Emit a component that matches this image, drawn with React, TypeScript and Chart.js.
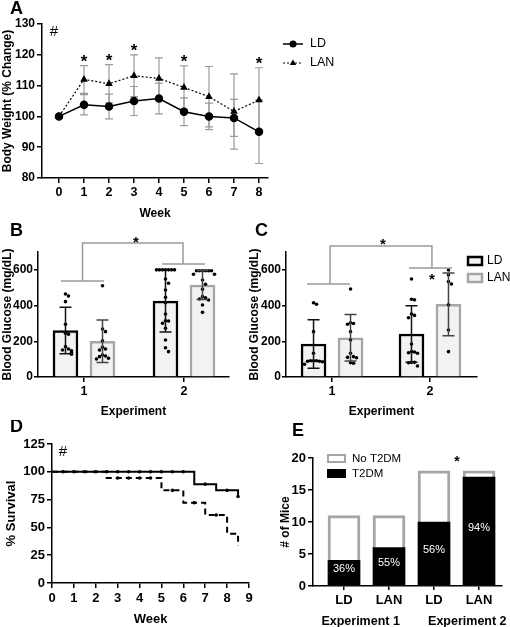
import React, { useEffect, useRef } from "react";
import { Chart, registerables } from "chart.js";
Chart.register(...registerables);

const FONT = "'Liberation Sans', Arial, Helvetica, sans-serif";
Chart.defaults.font.family = FONT;
Chart.defaults.color = "#000";

// ---------- Panel A: body weight ----------
const weeks = [0, 1, 2, 3, 4, 5, 6, 7, 8];
const ldWeight = [100, 103.8, 103.2, 105, 105.8, 101.5, 100, 99.5, 95];
const ldWeightSD = [0, 3.3, 4, 4.7, 5, 4.5, 4.3, 6, 10.3];
const lanWeight = [100, 112, 110.6, 113.2, 112.3, 109.4, 106.4, 101.6, 105.3];
const lanWeightSD = [0, 4.5, 6.2, 6.8, 6.7, 7, 9.8, 12.2, 10.5];
const weightStarWeeks = [1, 2, 3, 5, 8];
const weightTicks = [80, 90, 100, 110, 120, 130];

// ---------- Panel B: blood glucose ----------
const experiments = ["1", "2"];
const glucoseTicks = [0, 200, 400, 600];
const bLdMean = [260, 425];
const bLdSD = [130, 173];
const bLanMean = [200, 515];
const bLanSD = [119, 81];
const bLdDots = [
  [465, 454, 422, 295, 245, 239, 170, 157, 151, 147, 138, 127],
  [600, 600, 600, 600, 600, 600, 600, 549, 525, 487, 446, 416, 353, 315, 314, 301, 273, 207, 164, 142],
];
const bLanDots = [
  [511, 269, 254, 203, 166, 157, 151, 123, 118, 114, 105, 101],
  [595, 595, 595, 595, 595, 595, 575, 575, 543, 519, 491, 450, 444, 437, 431, 403, 362],
];

// ---------- Panel C: blood glucose ----------
const cLdMean = [185, 241];
const cLdSD = [136, 158];
const cLanMean = [220, 407];
const cLanSD = [130, 176];
const cLdDots = [
  [416, 407, 254, 133, 91, 91, 91, 88, 88, 85, 71],
  [549, 435, 432, 353, 345, 332, 185, 142, 140, 136, 133, 82, 82, 80, 62],
];
const cLanDots = [
  [493, 304, 300, 295, 254, 207, 133, 114, 110, 108, 80, 77],
  [599, 571, 534, 521, 404, 263, 142],
];

// ---------- Panel D: survival ----------
const survivalWeeks = [0, 1, 2, 3, 4, 5, 6, 7, 8, 9];
const survivalTicks = [0, 25, 50, 75, 100, 125];
const ldTimes = [0, 6.5, 7.5, 8.5];
const ldSurv = [100, 88.9, 83.3, 77.8];
const lanTimes = [0, 2.5, 5, 6, 7, 8, 8.5];
const lanSurv = [100, 94.4, 83.3, 72.2, 61.1, 44.4, 33.3];
const ldCensor = [0.5, 1, 1.5, 2, 2.5, 3, 3.5, 4, 4.5, 5, 5.5, 6, 7, 8, 8.5];
const lanCensor = [3, 3.5, 4, 4.5, 5.5, 6.5, 7.5];

// ---------- Panel E: T2DM ----------
const eGroups = ["LD", "LAN", "LD", "LAN"];
const eExperiments = ["Experiment 1", "Experiment 2"];
const eTotal = [11, 11, 18, 18];
const eT2DM = [4, 6, 10, 17];
const eTicks = [0, 5, 10, 15, 20];

// ---------- helpers ----------
const GRAY = "#a6a6a6";
const xTickFont = { family: FONT, size: 12.5, weight: "bold" as const };
const yTickFont = { family: FONT, size: 12, weight: "bold" as const };
const titleFont = { family: FONT, size: 12, weight: "bold" as const };

function axis(opts: any) {
  return {
    border: { display: true, color: "#000", width: 1.5 },
    grid: { display: true, drawOnChartArea: false, drawTicks: true, tickLength: 5, color: "#000", lineWidth: 1.5, offset: false },
    ticks: { color: "#000", font: yTickFont, padding: 2 },
    offset: false,
    ...opts,
  };
}
function fixedTicks(values: number[]) {
  return (s: any) => {
    s.ticks = values.map((v) => ({ value: v }));
  };
}
function text(ctx: CanvasRenderingContext2D, s: string, x: number, y: number, font: string, color = "#000", align: CanvasTextAlign = "center", baseline: CanvasTextBaseline = "middle") {
  ctx.save();
  ctx.font = font;
  ctx.fillStyle = color;
  ctx.textAlign = align;
  ctx.textBaseline = baseline;
  ctx.fillText(s, x, y);
  ctx.restore();
}
function star(ctx: CanvasRenderingContext2D, x: number, y: number, size = 17) {
  text(ctx, "*", x, y + size * 0.57, `bold ${size}px ${FONT}`, "#000", "center", "alphabetic");
}
function errBar(ctx: CanvasRenderingContext2D, px: number, top: number, bot: number, half: number) {
  ctx.beginPath();
  ctx.moveTo(px, top);
  ctx.lineTo(px, bot);
  ctx.moveTo(px - half, top);
  ctx.lineTo(px + half, top);
  ctx.moveTo(px - half, bot);
  ctx.lineTo(px + half, bot);
  ctx.stroke();
}
const jitterPattern = [0, 1, -1, 2, -2, 3, -3, 4, -4];
function jitter(values: number[], thresh: number) {
  return values.map((v, i) => {
    let k = 0;
    for (let j = 0; j < i; j++) if (Math.abs(values[j] - v) < thresh) k++;
    return jitterPattern[k % jitterPattern.length];
  });
}

function ChartBox({ left, top, width, height, make }: { left: number; top: number; width: number; height: number; make: () => any }) {
  const ref = useRef<HTMLCanvasElement>(null);
  useEffect(() => {
    const chart = new Chart(ref.current as HTMLCanvasElement, make());
    return () => chart.destroy();
  }, []);
  return (
    <div style={{ position: "absolute", left, top, width, height }}>
      <canvas ref={ref} width={width} height={height} style={{ display: "block", width, height }} />
    </div>
  );
}

const baseOptions = (padding: any) => ({
  responsive: false,
  animation: false,
  layout: { padding },
  plugins: { legend: { display: false }, tooltip: { enabled: false } },
  events: [],
});

// ---------- Panel A ----------
function makeA() {
  const plugin = {
    id: "annA",
    beforeDatasetsDraw(chart: any) {
      const { ctx, scales } = chart;
      const { x, y } = scales;
      ctx.save();
      ctx.strokeStyle = "#9a9a9a";
      ctx.lineWidth = 1.2;
      const draw = (m: number[], sd: number[]) =>
        weeks.forEach((w, i) => {
          if (!sd[i]) return;
          errBar(ctx, x.getPixelForValue(w), y.getPixelForValue(m[i] + sd[i]), y.getPixelForValue(m[i] - sd[i]), 4);
        });
      draw(ldWeight, ldWeightSD);
      draw(lanWeight, lanWeightSD);
      ctx.restore();
    },
    afterDatasetsDraw(chart: any) {
      const { ctx, scales } = chart;
      const { x, y } = scales;
      weightStarWeeks.forEach((w) => {
        const i = weeks.indexOf(w);
        star(ctx, x.getPixelForValue(w), y.getPixelForValue(lanWeight[i] + lanWeightSD[i] + 2.8));
      });
      text(ctx, "#", x.getPixelForValue(-0.2), y.getPixelForValue(127.4), `15px ${FONT}`);
      text(ctx, "A", 10, 9, `bold 18px ${FONT}`, "#000", "left");
      const lx = 283, lw = 20;
      ctx.save();
      ctx.strokeStyle = "#000";
      ctx.fillStyle = "#000";
      ctx.lineWidth = 1.5;
      ctx.beginPath();
      ctx.moveTo(lx, 44);
      ctx.lineTo(lx + lw, 44);
      ctx.stroke();
      ctx.beginPath();
      ctx.arc(lx + lw / 2, 44, 3.5, 0, Math.PI * 2);
      ctx.fill();
      ctx.lineWidth = 1.2;
      ctx.setLineDash([2, 2]);
      ctx.beginPath();
      ctx.moveTo(lx, 63);
      ctx.lineTo(lx + lw, 63);
      ctx.stroke();
      ctx.setLineDash([]);
      ctx.beginPath();
      ctx.moveTo(lx + lw / 2, 59.5);
      ctx.lineTo(lx + lw / 2 + 3.2, 65);
      ctx.lineTo(lx + lw / 2 - 3.2, 65);
      ctx.closePath();
      ctx.fill();
      ctx.restore();
      text(ctx, "LD", lx + lw + 7, 44, `12.5px ${FONT}`, "#000", "left");
      text(ctx, "LAN", lx + lw + 7, 63, `12.5px ${FONT}`, "#000", "left");
    },
  };
  return {
    type: "line",
    data: {
      datasets: [
        {
          label: "LD",
          data: weeks.map((w, i) => ({ x: w, y: ldWeight[i] })),
          borderColor: "#000",
          backgroundColor: "#000",
          borderWidth: 1.5,
          pointRadius: 3.5,
          pointStyle: "circle",
        },
        {
          label: "LAN",
          data: weeks.map((w, i) => ({ x: w, y: lanWeight[i] })),
          borderColor: "#000",
          backgroundColor: "#000",
          borderWidth: 1.2,
          borderDash: [2, 2],
          pointRadius: 3.2,
          pointStyle: "triangle",
        },
      ],
    },
    options: {
      ...baseOptions({ top: 24, right: 92, left: 0, bottom: 0 }),
      scales: {
        x: axis({
          type: "linear",
          min: -0.68,
          max: 8.36,
          afterBuildTicks: fixedTicks(weeks),
          ticks: { color: "#000", font: xTickFont, padding: 2 },
          afterFit: (s: any) => { s.height = 47; },
          title: { display: true, text: "Week", font: titleFont, color: "#000", padding: { top: 0, bottom: 4 } },
        }),
        y: axis({
          type: "linear",
          min: 80,
          max: 130,
          afterBuildTicks: fixedTicks(weightTicks),
          afterFit: (s: any) => { s.width = 42; },
          title: { display: true, text: "Body Weight (% Change)", font: titleFont, color: "#000", padding: { top: 0.5, bottom: 0 } },
        }),
      },
    },
    plugins: [plugin],
  };
}

// ---------- Panels B & C ----------
function makeGlucose(cfg: {
  letter: string;
  letterX: number;
  ldMean: number[];
  ldSD: number[];
  lanMean: number[];
  lanSD: number[];
  ldDots: number[][];
  lanDots: number[][];
  xmin: number;
  xmax: number;
  unitPx: number;
  yWidth: number;
  padRight: number;
  bracket: { l1: number[]; y1: number; l2: number[]; y2: number; top: number; v1: number; v2: number; star: number[]; extraStar?: number[] };
  legend?: boolean;
}) {
  const off = 18.5 / cfg.unitPx;
  const step = 3 / cfg.unitPx;
  const dotSets: any[] = [];
  [cfg.ldDots, cfg.lanDots].forEach((groups, s) => {
    const pts: any[] = [];
    groups.forEach((vals, g) => {
      const j = jitter(vals, 28);
      vals.forEach((v, i) => pts.push({ x: g + 1 + (s === 0 ? -off : off) + j[i] * step, y: v }));
    });
    dotSets.push({
      type: "scatter",
      data: pts,
      pointRadius: 1.8,
      pointBackgroundColor: "#000",
      pointBorderWidth: 0,
      showLine: false,
    });
  });
  const plugin = {
    id: "annG" + cfg.letter,
    afterDatasetsDraw(chart: any) {
      const { ctx, scales } = chart;
      const { x, y } = scales;
      ctx.save();
      ctx.lineWidth = 1.5;
      experiments.forEach((_, g) => {
        ctx.strokeStyle = "#111";
        errBar(ctx, x.getPixelForValue(g + 1 - off), y.getPixelForValue(cfg.ldMean[g] + cfg.ldSD[g]), y.getPixelForValue(cfg.ldMean[g] - cfg.ldSD[g]), 6);
        ctx.strokeStyle = "#444";
        errBar(ctx, x.getPixelForValue(g + 1 + off), y.getPixelForValue(cfg.lanMean[g] + cfg.lanSD[g]), y.getPixelForValue(cfg.lanMean[g] - cfg.lanSD[g]), 6);
      });
      const b = cfg.bracket;
      ctx.strokeStyle = "#9a9a9a";
      ctx.lineWidth = 1.5;
      ctx.beginPath();
      ctx.moveTo(x.getPixelForValue(b.l1[0]), y.getPixelForValue(b.y1));
      ctx.lineTo(x.getPixelForValue(b.l1[1]), y.getPixelForValue(b.y1));
      ctx.moveTo(x.getPixelForValue(b.l2[0]), y.getPixelForValue(b.y2));
      ctx.lineTo(x.getPixelForValue(b.l2[1]), y.getPixelForValue(b.y2));
      ctx.moveTo(x.getPixelForValue(b.v1), y.getPixelForValue(b.y1));
      ctx.lineTo(x.getPixelForValue(b.v1), y.getPixelForValue(b.top));
      ctx.lineTo(x.getPixelForValue(b.v2), y.getPixelForValue(b.top));
      ctx.lineTo(x.getPixelForValue(b.v2), y.getPixelForValue(b.y2));
      ctx.stroke();
      ctx.restore();
      star(ctx, x.getPixelForValue(b.star[0]), y.getPixelForValue(b.star[1]), 15);
      if (b.extraStar) star(ctx, x.getPixelForValue(b.extraStar[0]), y.getPixelForValue(b.extraStar[1]), 15);
      text(ctx, cfg.letter, cfg.letterX, 16, `bold 18px ${FONT}`, "#000", "left");
      if (cfg.legend) {
        const bx = 468 - 247;
        ctx.save();
        ctx.fillStyle = "#f2f2f2";
        ctx.lineWidth = 2.5;
        ctx.fillRect(bx, 42, 14, 8);
        ctx.strokeStyle = "#000";
        ctx.strokeRect(bx, 42, 14, 8);
        ctx.fillRect(bx, 59, 14, 8);
        ctx.strokeStyle = GRAY;
        ctx.strokeRect(bx, 59, 14, 8);
        ctx.restore();
        text(ctx, "LD", bx + 19, 46, `12px ${FONT}`, "#000", "left");
        text(ctx, "LAN", bx + 19, 63, `12px ${FONT}`, "#000", "left");
      }
    },
  };
  const barDs = (means: number[], sign: number, border: string) => ({
    type: "bar",
    data: experiments.map((_, g) => ({ x: g + 1 + sign * off, y: means[g] })),
    backgroundColor: "#f2f2f2",
    borderColor: border,
    borderWidth: 2.5,
    barThickness: 25,
    grouped: false,
  });
  return {
    type: "bar",
    data: {
      datasets: [...dotSets, barDs(cfg.ldMean, -1, "#000"), barDs(cfg.lanMean, 1, GRAY)],
    },
    options: {
      ...baseOptions({ top: 37, right: cfg.padRight, left: 0, bottom: 0 }),
      scales: {
        x: axis({
          type: "linear",
          min: cfg.xmin,
          max: cfg.xmax,
          afterBuildTicks: fixedTicks([1, 2]),
          ticks: { color: "#000", font: xTickFont, padding: 2, callback: (v: number) => experiments[Math.round(v) - 1] },
          afterFit: (s: any) => { s.height = 46; },
          title: { display: true, text: "Experiment", font: titleFont, color: "#000", padding: { top: 0, bottom: 4 } },
        }),
        y: axis({
          type: "linear",
          min: 0,
          max: 700,
          afterBuildTicks: fixedTicks(glucoseTicks),
          grid: { display: true, drawOnChartArea: false, drawTicks: true, tickLength: 4, color: "#000", lineWidth: 1.5, offset: false },
          ticks: { color: "#000", font: yTickFont, padding: 1 },
          afterFit: (s: any) => { s.width = cfg.yWidth; },
          title: { display: true, text: "Blood Glucose (mg/dL)", font: titleFont, color: "#000", padding: { top: 0, bottom: 0 } },
        }),
      },
    },
    plugins: [plugin],
  };
}

// ---------- Panel D ----------
function stepAt(times: number[], vals: number[], t: number) {
  let v = vals[0];
  times.forEach((tt, i) => { if (tt <= t) v = vals[i]; });
  return v;
}
function makeD() {
  const plugin = {
    id: "annD",
    afterDatasetsDraw(chart: any) {
      const { ctx, scales } = chart;
      const { x, y } = scales;
      text(ctx, "#", x.getPixelForValue(0.5), y.getPixelForValue(117.5), `15px ${FONT}`);
      text(ctx, "D", 10, 7, `bold 18px ${FONT}`, "#000", "left");
    },
  };
  return {
    type: "line",
    data: {
      datasets: [
        {
          data: ldCensor.map((t) => ({ x: t, y: stepAt(ldTimes, ldSurv, t) })),
          showLine: false,
          pointRadius: 1.8,
          pointBackgroundColor: "#000",
          pointBorderWidth: 0,
        },
        {
          data: lanCensor.map((t) => ({ x: t, y: stepAt(lanTimes, lanSurv, t) })),
          showLine: false,
          pointRadius: 1.8,
          pointBackgroundColor: "#000",
          pointBorderWidth: 0,
        },
        {
          label: "LD",
          data: ldTimes.map((t, i) => ({ x: t, y: ldSurv[i] })),
          stepped: true,
          borderColor: "#000",
          borderWidth: 2,
          pointRadius: 0,
        },
        {
          label: "LAN",
          data: lanTimes.map((t, i) => ({ x: t, y: lanSurv[i] })),
          stepped: true,
          borderColor: "#000",
          borderWidth: 2,
          borderDash: [6, 4],
          pointRadius: 0,
        },
      ],
    },
    options: {
      ...baseOptions({ top: 24, right: 11, left: 0, bottom: 0 }),
      scales: {
        x: axis({
          type: "linear",
          min: 0,
          max: 9,
          afterBuildTicks: fixedTicks(survivalWeeks),
          ticks: { color: "#000", font: { ...xTickFont, size: 13 }, padding: 3 },
          afterFit: (s: any) => { s.height = 44; },
          title: { display: true, text: "Week", font: { ...titleFont, size: 13 }, color: "#000", padding: { top: 0, bottom: 0 } },
        }),
        y: axis({
          type: "linear",
          min: 0,
          max: 125,
          afterBuildTicks: fixedTicks(survivalTicks),
          ticks: { color: "#000", font: { ...yTickFont, size: 13 }, padding: 2 },
          afterFit: (s: any) => { s.width = 52; },
          title: { display: true, text: "% Survival", font: { ...titleFont, size: 13 }, color: "#000", padding: { top: 4, bottom: 0 } },
        }),
      },
    },
    plugins: [plugin],
  };
}

// ---------- Panel E ----------
function makeE() {
  const plugin = {
    id: "annE",
    afterDatasetsDraw(chart: any) {
      const { ctx, scales } = chart;
      const { x, y } = scales;
      eT2DM.forEach((v, i) => {
        const pct = Math.round((v / eTotal[i]) * 100) + "%";
        text(ctx, pct, x.getPixelForValue(i + 1), y.getPixelForValue(v * 0.5 + 0.6), `11px ${FONT}`, "#fff");
      });
      eExperiments.forEach((s, i) => {
        text(ctx, s, x.getPixelForValue(i === 0 ? 1.37 : 3.74), 202, `bold 12.5px ${FONT}`);
      });
      star(ctx, x.getPixelForValue(3.51), y.getPixelForValue(20), 14);
      text(ctx, "E", 32, 11, `bold 18px ${FONT}`, "#000", "left");
      ctx.save();
      ctx.fillStyle = "#fff";
      ctx.strokeStyle = GRAY;
      ctx.lineWidth = 2;
      ctx.fillRect(68, 35, 17, 7);
      ctx.strokeRect(68, 35, 17, 7);
      ctx.fillStyle = "#000";
      ctx.fillRect(67, 49, 19, 9);
      ctx.restore();
      text(ctx, "No T2DM", 92, 38.5, `11.5px ${FONT}`, "#000", "left");
      text(ctx, "T2DM", 92, 53.5, `11.5px ${FONT}`, "#000", "left");
    },
  };
  return {
    type: "bar",
    data: {
      datasets: [
        {
          label: "T2DM",
          data: eT2DM.map((v, i) => ({ x: i + 1, y: v })),
          backgroundColor: "#000",
          borderWidth: 0,
          barThickness: 32,
          grouped: false,
          order: 0,
        },
        {
          label: "No T2DM",
          data: eTotal.map((v, i) => ({ x: i + 1, y: v })),
          backgroundColor: "#fff",
          borderColor: GRAY,
          borderWidth: 3,
          barThickness: 32,
          grouped: false,
          order: 1,
        },
      ],
    },
    options: {
      ...baseOptions({ top: 38, right: 8, left: 0, bottom: 0 }),
      scales: {
        x: axis({
          type: "linear",
          min: 0.311,
          max: 4.511,
          afterBuildTicks: fixedTicks([1, 2, 3, 4]),
          grid: { display: true, drawOnChartArea: false, drawTicks: true, tickLength: 4, color: "#000", lineWidth: 1.5, offset: false },
          ticks: { color: "#000", font: { ...xTickFont, size: 13 }, padding: 3, callback: (v: number) => eGroups[Math.round(v) - 1] },
          afterFit: (s: any) => { s.height = 41; },
        }),
        y: axis({
          type: "linear",
          min: 0,
          max: 20,
          afterBuildTicks: fixedTicks(eTicks),
          ticks: { color: "#000", font: { ...yTickFont, size: 13 }, padding: 2 },
          afterFit: (s: any) => { s.width = 53; },
          title: { display: true, text: "# of Mice", font: titleFont, color: "#000", padding: { top: 18, bottom: 0 } },
        }),
      },
    },
    plugins: [plugin],
  };
}

export default function App() {
  return (
    <div style={{ position: "absolute", left: 0, top: 0, width: 510, height: 627, background: "#fff", overflow: "hidden" }}>
      <ChartBox left={0} top={0} width={360} height={225} make={makeA} />
      <ChartBox
        left={0}
        top={215}
        width={250}
        height={208}
        make={() =>
          makeGlucose({
            letter: "B",
            letterX: 10,
            ldMean: bLdMean,
            ldSD: bLdSD,
            lanMean: bLanMean,
            lanSD: bLanSD,
            ldDots: bLdDots,
            lanDots: bLanDots,
            xmin: 0.54,
            xmax: 2.45,
            unitPx: 100,
            yWidth: 38,
            padRight: 21,
            bracket: { l1: [0.77, 1.2], y1: 538, l2: [1.78, 2.21], y2: 633, top: 750, v1: 0.985, v2: 1.99, star: [1.52, 778] },
          })
        }
      />
      <ChartBox
        left={247}
        top={215}
        width={263}
        height={208}
        make={() =>
          makeGlucose({
            letter: "C",
            letterX: 8,
            ldMean: cLdMean,
            ldSD: cLdSD,
            lanMean: cLanMean,
            lanSD: cLanSD,
            ldDots: cLdDots,
            lanDots: cLanDots,
            xmin: 0.53,
            xmax: 2.48,
            unitPx: 98,
            yWidth: 39,
            padRight: 33,
            bracket: { l1: [0.745, 1.184], y1: 521, l2: [1.786, 2.224], y2: 610, top: 734, v1: 0.98, v2: 2.02, star: [1.52, 762], extraStar: [2.02, 566] },
            legend: true,
          })
        }
      />
      <ChartBox left={0} top={420} width={260} height={207} make={makeD} />
      <ChartBox left={260} top={420} width={250} height={207} make={makeE} />
    </div>
  );
}
